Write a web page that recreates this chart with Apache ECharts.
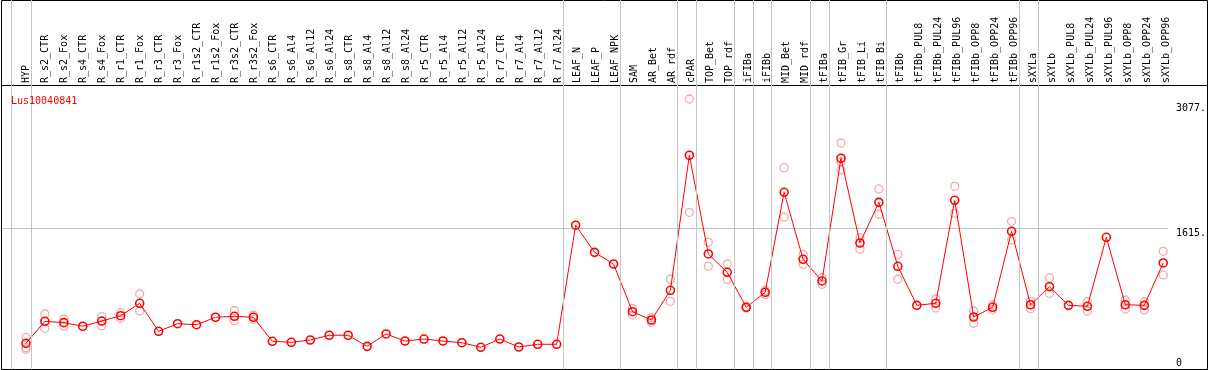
<!DOCTYPE html>
<html><head><meta charset="utf-8">
<script src="https://cdn.jsdelivr.net/npm/echarts@6/dist/echarts.min.js"></script>
<style>html,body{margin:0;padding:0;background:#fff}#c{width:1209px;height:370px}</style>
</head><body><div id="c"></div><script>
const title = 'Lus10040841';
const categories = ['HYP','R_s2_CTR','R_s2_Fox','R_s4_CTR','R_s4_Fox','R_r1_CTR','R_r1_Fox','R_r3_CTR','R_r3_Fox','R_r1s2_CTR','R_r1s2_Fox','R_r3s2_CTR','R_r3s2_Fox','R_s6_CTR','R_s6_Al4','R_s6_Al12','R_s6_Al24','R_s8_CTR','R_s8_Al4','R_s8_Al12','R_s8_Al24','R_r5_CTR','R_r5_Al4','R_r5_Al12','R_r5_Al24','R_r7_CTR','R_r7_Al4','R_r7_Al12','R_r7_Al24','LEAF_N','LEAF_P','LEAF_NPK','SAM','AR_Bet','AR_rdf','cPAR','TOP_Bet','TOP_rdf','iFIBa','iFIBb','MID_Bet','MID_rdf','tFIBa','tFIB_Gr','tFIB_Li','tFIB_Bi','tFIBb','tFIBb_PUL8','tFIBb_PUL24','tFIBb_PUL96','tFIBb_OPP8','tFIBb_OPP24','tFIBb_OPP96','sXYLa','sXYLb','sXYLb_PUL8','sXYLb_PUL24','sXYLb_PUL96','sXYLb_OPP8','sXYLb_OPP24','sXYLb_OPP96'];
const means = [276,533,517,475,536,598,743,416,505,493,580,591,580,300,288,315,370,370,241,385,303,326,303,283,230,326,233,265,265,1653,1337,1201,645,548,894,2469,1318,1104,696,871,2037,1256,1003,2434,1446,1920,1174,719,743,1944,583,696,1582,726,936,719,708,1512,726,719,1213];
const replicates = [[346,225,206],[618,451],[560,478],[],[587,482],[633,568],[851,653],[],[],[],[],[656,540],[604,556],[],[],[],[],[],[],[],[],[],[],[],[],[],[],[],[],[],[],[],[684,606],[575,521],[1023,766],[3125,1804],[1454,1174],[1201,1023],[705,688],[895,845],[2324,1749],[1314,1198],[1041,965],[2612,2394,2297],[1508,1372],[2076,1781],[1314,1023],[],[793,688],[2107,1792],[653,510],[723,670],[1699,1481],[766,680],[1038,859],[],[761,653],[],[781,676],[761,665],[1349,1073]];
const groupEnds = [-1,0,28,31,34,35,37,38,39,41,42,45,52,53,60];
const yTickValues = [0,1615,3077];
const refLine = 1615;
const yMax = 3288;

const FONT = 'DejaVu Sans Mono';
const xMin = -24/19, xMax = 60 + 4.7/19;
const sepOffset = 0.25;

const meanData = means.map((v,i)=>[i,v]);
const repData = [];
replicates.forEach((arr,i)=>arr.forEach(v=>repData.push([i,v])));

const hiddenVal = (g, extra) => Object.assign({type:'value', gridIndex:g, show:false}, extra||{});

const chart = echarts.init(document.getElementById('c'), null, {renderer:'canvas'});
chart.setOption({
  animation:false,
  backgroundColor:'#fff',
  title:{text:title, left:6, top:91, textStyle:{color:'#f00', fontFamily:FONT, fontSize:10, fontWeight:'normal'}},
  grid:[
    {left:2, right:38.3, top:85, bottom:3},
    {left:16.5, right:33.5, top:85, bottom:3},
    {left:2, right:38.3, top:0, bottom:0.5},
    {left:1.5, right:1.5, top:0.5, bottom:0.5, show:true, borderColor:'#000', borderWidth:1, backgroundColor:'transparent'},
    {left:1.5, right:1.5, top:85.5, bottom:0.5, show:true, borderColor:'#000', borderWidth:1, backgroundColor:'transparent'}
  ],
  xAxis:[
    hiddenVal(0,{min:xMin, max:xMax}),
    {type:'category', gridIndex:1, data:categories, position:'top', boundaryGap:true,
     axisLine:{show:false}, axisTick:{show:false}, splitLine:{show:false},
     axisLabel:{rotate:90, margin:2, interval:0, fontFamily:FONT, fontSize:10, color:'#000'}},
    hiddenVal(2,{min:xMin, max:xMax}),
    hiddenVal(3),
    hiddenVal(4)
  ],
  yAxis:[
    {type:'value', gridIndex:0, min:0, max:yMax, position:'right',
     axisLine:{show:false}, axisTick:{show:false}, splitLine:{show:false},
     axisLabel:{customValues:yTickValues, margin:8, fontFamily:FONT, fontSize:10, color:'#000',
       formatter:v => v===0 ? '{b|0}' : '{t|'+v+'.}',
       rich:{t:{padding:[10,0,0,0], fontFamily:FONT, fontSize:10, color:'#000'},
             b:{padding:[0,0,7,0], fontFamily:FONT, fontSize:10, color:'#000'}}}},
    hiddenVal(1,{min:0,max:yMax}),
    hiddenVal(2,{min:0,max:1}),
    hiddenVal(3),
    hiddenVal(4)
  ],
  series:[
    {type:'line', xAxisIndex:2, yAxisIndex:2, data:[], silent:true,
     markLine:{silent:true, symbol:'none', animation:false,
       lineStyle:{color:'#c4c4c4', width:1, type:'solid'}, label:{show:false},
       data: groupEnds.map(i=>({xAxis:i+sepOffset}))}},
    {type:'scatter', xAxisIndex:0, yAxisIndex:0, data:repData, symbol:'circle', symbolSize:8, z:2,
     itemStyle:{color:'rgba(0,0,0,0)', borderColor:'#ef9494', borderWidth:1.3}},
    {type:'line', xAxisIndex:0, yAxisIndex:0, data:meanData, symbol:'circle', symbolSize:8, z:3,
     showAllSymbol:true,
     lineStyle:{color:'#f00', width:1},
     itemStyle:{color:'rgba(0,0,0,0)', borderColor:'#f00', borderWidth:1.6},
     markLine:{silent:true, symbol:'none', animation:false, z:1,
       lineStyle:{color:'#c4c4c4', width:1, type:'solid'}, label:{show:false},
       data:[{yAxis:refLine}]}}
  ]
});
</script></body></html>
